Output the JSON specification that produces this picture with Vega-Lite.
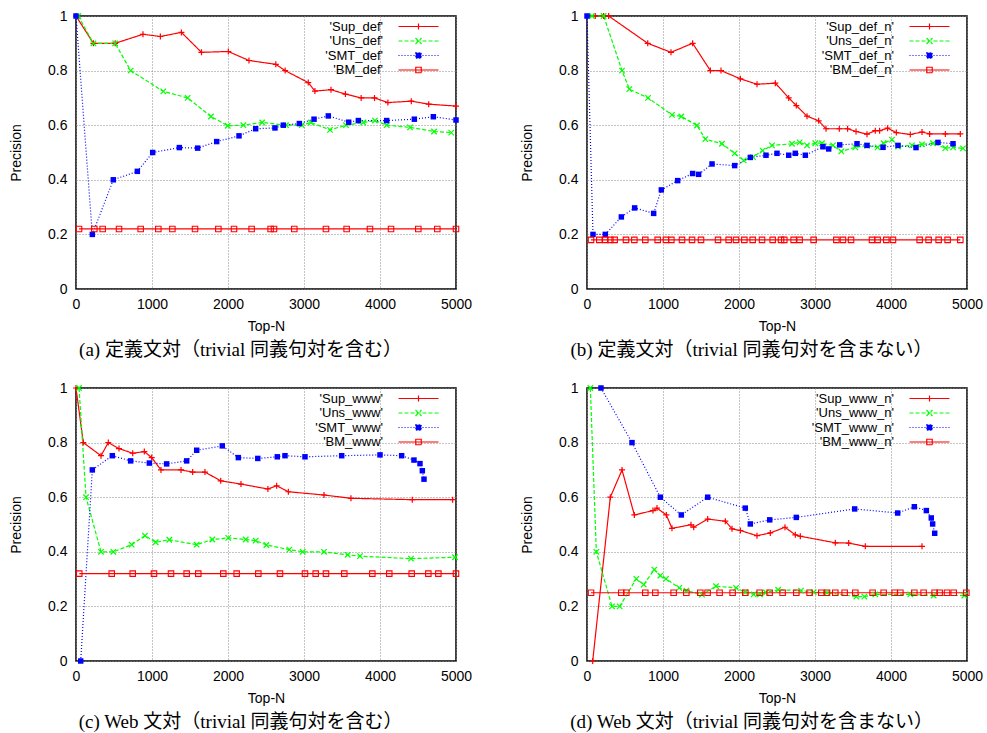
{
  "$schema": "https://vega.github.io/schema/vega-lite/v6.json",
  "padding": {"left": 8, "top": 8, "right": 0, "bottom": 0},
  "columns": 2,
  "spacing": {"row": 99, "column": 131},
  "bounds": "flush",
  "config": {
    "view": {"stroke": "black", "strokeWidth": 1.5},
    "axis": {"labelFont": "Liberation Sans", "labelFontSize": 14, "labelColor": "black", "titleFont": "Liberation Sans", "titleFontSize": 14, "titleFontWeight": "normal", "titleColor": "black", "domain": false, "ticks": false, "grid": true, "gridColor": "#8a8a8a", "gridDash": [1, 2], "gridOpacity": 1, "gridWidth": 1, "labelFlush": false, "labelOverlap": false},
    "axisX": {"labelPadding": 8, "titlePadding": 8},
    "axisY": {"labelPadding": 9, "titlePadding": 24},
    "title": {"orient": "bottom", "font": "Liberation Serif, Noto Sans CJK JP", "fontSize": 19, "fontWeight": "normal", "color": "black", "offset": 8, "anchor": "middle", "frame": "bounds"},
    "legend": {"title": null, "orient": "none", "legendX": 336, "legendY": 4, "padding": 0, "labelAlign": "right", "labelOffset": -42, "symbolSize": 100, "symbolStrokeWidth": 1.2, "labelFontSize": 13, "labelFont": "Liberation Sans", "labelColor": "black", "rowPadding": 0.5}
  },
  "resolve": {
    "scale": {"color": "independent", "strokeDash": "independent"},
    "legend": {"color": "independent", "strokeDash": "independent"}
  },
  "datasets": {
    "a": [
      {"x":0,"y":1,"s":"Sup_def"},{"x":229,"y":0.9,"s":"Sup_def"},{"x":515,"y":0.9,"s":"Sup_def"},{"x":881,"y":0.933,"s":"Sup_def"},{"x":1110,"y":0.925,"s":"Sup_def"},{"x":1387,"y":0.94,"s":"Sup_def"},{"x":1651,"y":0.867,"s":"Sup_def"},{"x":2004,"y":0.87,"s":"Sup_def"},{"x":2276,"y":0.837,"s":"Sup_def"},{"x":2629,"y":0.823,"s":"Sup_def"},{"x":2752,"y":0.8,"s":"Sup_def"},{"x":3056,"y":0.756,"s":"Sup_def"},{"x":3144,"y":0.725,"s":"Sup_def"},{"x":3355,"y":0.73,"s":"Sup_def"},{"x":3545,"y":0.714,"s":"Sup_def"},{"x":3752,"y":0.7,"s":"Sup_def"},{"x":3928,"y":0.7,"s":"Sup_def"},{"x":4104,"y":0.683,"s":"Sup_def"},{"x":4412,"y":0.688,"s":"Sup_def"},{"x":4641,"y":0.677,"s":"Sup_def"},{"x":5000,"y":0.67,"s":"Sup_def"},
      {"x":30,"y":1,"s":"Uns_def"},{"x":229,"y":0.9,"s":"Uns_def"},{"x":515,"y":0.9,"s":"Uns_def"},{"x":719,"y":0.8,"s":"Uns_def"},{"x":1149,"y":0.724,"s":"Uns_def"},{"x":1469,"y":0.7,"s":"Uns_def"},{"x":1776,"y":0.632,"s":"Uns_def"},{"x":1996,"y":0.598,"s":"Uns_def"},{"x":2202,"y":0.6,"s":"Uns_def"},{"x":2450,"y":0.61,"s":"Uns_def"},{"x":2763,"y":0.6,"s":"Uns_def"},{"x":2970,"y":0.6,"s":"Uns_def"},{"x":3092,"y":0.61,"s":"Uns_def"},{"x":3342,"y":0.583,"s":"Uns_def"},{"x":3553,"y":0.6,"s":"Uns_def"},{"x":3780,"y":0.61,"s":"Uns_def"},{"x":3934,"y":0.617,"s":"Uns_def"},{"x":4088,"y":0.6,"s":"Uns_def"},{"x":4395,"y":0.592,"s":"Uns_def"},{"x":4711,"y":0.577,"s":"Uns_def"},{"x":4938,"y":0.573,"s":"Uns_def"},
      {"x":0,"y":1,"s":"SMT_def"},{"x":215,"y":0.2,"s":"SMT_def"},{"x":491,"y":0.4,"s":"SMT_def"},{"x":807,"y":0.431,"s":"SMT_def"},{"x":1009,"y":0.5,"s":"SMT_def"},{"x":1360,"y":0.518,"s":"SMT_def"},{"x":1601,"y":0.516,"s":"SMT_def"},{"x":1851,"y":0.54,"s":"SMT_def"},{"x":2145,"y":0.561,"s":"SMT_def"},{"x":2364,"y":0.587,"s":"SMT_def"},{"x":2618,"y":0.59,"s":"SMT_def"},{"x":2728,"y":0.6,"s":"SMT_def"},{"x":2939,"y":0.606,"s":"SMT_def"},{"x":3132,"y":0.622,"s":"SMT_def"},{"x":3320,"y":0.634,"s":"SMT_def"},{"x":3588,"y":0.611,"s":"SMT_def"},{"x":3715,"y":0.617,"s":"SMT_def"},{"x":4088,"y":0.617,"s":"SMT_def"},{"x":4452,"y":0.622,"s":"SMT_def"},{"x":4702,"y":0.631,"s":"SMT_def"},{"x":5000,"y":0.619,"s":"SMT_def"},
      {"x":40,"y":0.22,"s":"BM_def"},{"x":241,"y":0.22,"s":"BM_def"},{"x":351,"y":0.22,"s":"BM_def"},{"x":566,"y":0.22,"s":"BM_def"},{"x":851,"y":0.22,"s":"BM_def"},{"x":1083,"y":0.22,"s":"BM_def"},{"x":1268,"y":0.22,"s":"BM_def"},{"x":1566,"y":0.22,"s":"BM_def"},{"x":1873,"y":0.22,"s":"BM_def"},{"x":2079,"y":0.22,"s":"BM_def"},{"x":2311,"y":0.22,"s":"BM_def"},{"x":2561,"y":0.22,"s":"BM_def"},{"x":2605,"y":0.22,"s":"BM_def"},{"x":2872,"y":0.22,"s":"BM_def"},{"x":3289,"y":0.22,"s":"BM_def"},{"x":3561,"y":0.22,"s":"BM_def"},{"x":3868,"y":0.22,"s":"BM_def"},{"x":4145,"y":0.22,"s":"BM_def"},{"x":4504,"y":0.22,"s":"BM_def"},{"x":4754,"y":0.22,"s":"BM_def"},{"x":5000,"y":0.22,"s":"BM_def"}
    ],
    "b": [
      {"x":109,"y":1,"s":"Sup_def_n"},{"x":219,"y":1,"s":"Sup_def_n"},{"x":285,"y":1,"s":"Sup_def_n"},{"x":799,"y":0.9,"s":"Sup_def_n"},{"x":1105,"y":0.867,"s":"Sup_def_n"},{"x":1390,"y":0.9,"s":"Sup_def_n"},{"x":1623,"y":0.8,"s":"Sup_def_n"},{"x":1763,"y":0.8,"s":"Sup_def_n"},{"x":2018,"y":0.77,"s":"Sup_def_n"},{"x":2237,"y":0.75,"s":"Sup_def_n"},{"x":2478,"y":0.754,"s":"Sup_def_n"},{"x":2654,"y":0.7,"s":"Sup_def_n"},{"x":2754,"y":0.672,"s":"Sup_def_n"},{"x":2895,"y":0.633,"s":"Sup_def_n"},{"x":3048,"y":0.616,"s":"Sup_def_n"},{"x":3145,"y":0.587,"s":"Sup_def_n"},{"x":3320,"y":0.587,"s":"Sup_def_n"},{"x":3429,"y":0.587,"s":"Sup_def_n"},{"x":3540,"y":0.577,"s":"Sup_def_n"},{"x":3684,"y":0.567,"s":"Sup_def_n"},{"x":3793,"y":0.58,"s":"Sup_def_n"},{"x":3850,"y":0.58,"s":"Sup_def_n"},{"x":3955,"y":0.589,"s":"Sup_def_n"},{"x":4070,"y":0.573,"s":"Sup_def_n"},{"x":4254,"y":0.566,"s":"Sup_def_n"},{"x":4408,"y":0.575,"s":"Sup_def_n"},{"x":4508,"y":0.568,"s":"Sup_def_n"},{"x":4715,"y":0.568,"s":"Sup_def_n"},{"x":4912,"y":0.568,"s":"Sup_def_n"},
      {"x":66,"y":1,"s":"Uns_def_n"},{"x":219,"y":1,"s":"Uns_def_n"},{"x":461,"y":0.8,"s":"Uns_def_n"},{"x":557,"y":0.732,"s":"Uns_def_n"},{"x":803,"y":0.7,"s":"Uns_def_n"},{"x":1118,"y":0.638,"s":"Uns_def_n"},{"x":1241,"y":0.632,"s":"Uns_def_n"},{"x":1447,"y":0.599,"s":"Uns_def_n"},{"x":1557,"y":0.549,"s":"Uns_def_n"},{"x":1776,"y":0.532,"s":"Uns_def_n"},{"x":1943,"y":0.497,"s":"Uns_def_n"},{"x":2061,"y":0.471,"s":"Uns_def_n"},{"x":2184,"y":0.483,"s":"Uns_def_n"},{"x":2311,"y":0.507,"s":"Uns_def_n"},{"x":2434,"y":0.526,"s":"Uns_def_n"},{"x":2697,"y":0.532,"s":"Uns_def_n"},{"x":2798,"y":0.537,"s":"Uns_def_n"},{"x":2895,"y":0.526,"s":"Uns_def_n"},{"x":3004,"y":0.534,"s":"Uns_def_n"},{"x":3092,"y":0.534,"s":"Uns_def_n"},{"x":3237,"y":0.526,"s":"Uns_def_n"},{"x":3346,"y":0.504,"s":"Uns_def_n"},{"x":3530,"y":0.519,"s":"Uns_def_n"},{"x":3684,"y":0.525,"s":"Uns_def_n"},{"x":3824,"y":0.519,"s":"Uns_def_n"},{"x":3903,"y":0.534,"s":"Uns_def_n"},{"x":4013,"y":0.547,"s":"Uns_def_n"},{"x":4092,"y":0.522,"s":"Uns_def_n"},{"x":4276,"y":0.526,"s":"Uns_def_n"},{"x":4408,"y":0.53,"s":"Uns_def_n"},{"x":4553,"y":0.534,"s":"Uns_def_n"},{"x":4715,"y":0.516,"s":"Uns_def_n"},{"x":4816,"y":0.519,"s":"Uns_def_n"},{"x":4947,"y":0.515,"s":"Uns_def_n"},
      {"x":0,"y":1,"s":"SMT_def_n"},{"x":79,"y":0.2,"s":"SMT_def_n"},{"x":241,"y":0.2,"s":"SMT_def_n"},{"x":452,"y":0.264,"s":"SMT_def_n"},{"x":627,"y":0.297,"s":"SMT_def_n"},{"x":877,"y":0.277,"s":"SMT_def_n"},{"x":978,"y":0.363,"s":"SMT_def_n"},{"x":1193,"y":0.397,"s":"SMT_def_n"},{"x":1390,"y":0.423,"s":"SMT_def_n"},{"x":1469,"y":0.42,"s":"SMT_def_n"},{"x":1645,"y":0.458,"s":"SMT_def_n"},{"x":1943,"y":0.452,"s":"SMT_def_n"},{"x":2149,"y":0.482,"s":"SMT_def_n"},{"x":2355,"y":0.49,"s":"SMT_def_n"},{"x":2500,"y":0.497,"s":"SMT_def_n"},{"x":2654,"y":0.49,"s":"SMT_def_n"},{"x":2741,"y":0.497,"s":"SMT_def_n"},{"x":2873,"y":0.49,"s":"SMT_def_n"},{"x":3105,"y":0.521,"s":"SMT_def_n"},{"x":3180,"y":0.513,"s":"SMT_def_n"},{"x":3325,"y":0.528,"s":"SMT_def_n"},{"x":3553,"y":0.532,"s":"SMT_def_n"},{"x":3684,"y":0.526,"s":"SMT_def_n"},{"x":3895,"y":0.519,"s":"SMT_def_n"},{"x":4092,"y":0.526,"s":"SMT_def_n"},{"x":4329,"y":0.518,"s":"SMT_def_n"},{"x":4618,"y":0.537,"s":"SMT_def_n"},{"x":4816,"y":0.532,"s":"SMT_def_n"},
      {"x":53,"y":0.18,"s":"BM_def_n"},{"x":162,"y":0.18,"s":"BM_def_n"},{"x":241,"y":0.18,"s":"BM_def_n"},{"x":307,"y":0.18,"s":"BM_def_n"},{"x":364,"y":0.18,"s":"BM_def_n"},{"x":513,"y":0.18,"s":"BM_def_n"},{"x":623,"y":0.18,"s":"BM_def_n"},{"x":767,"y":0.18,"s":"BM_def_n"},{"x":930,"y":0.18,"s":"BM_def_n"},{"x":1039,"y":0.18,"s":"BM_def_n"},{"x":1110,"y":0.18,"s":"BM_def_n"},{"x":1250,"y":0.18,"s":"BM_def_n"},{"x":1382,"y":0.18,"s":"BM_def_n"},{"x":1500,"y":0.18,"s":"BM_def_n"},{"x":1724,"y":0.18,"s":"BM_def_n"},{"x":1864,"y":0.18,"s":"BM_def_n"},{"x":1961,"y":0.18,"s":"BM_def_n"},{"x":2070,"y":0.18,"s":"BM_def_n"},{"x":2180,"y":0.18,"s":"BM_def_n"},{"x":2303,"y":0.18,"s":"BM_def_n"},{"x":2443,"y":0.18,"s":"BM_def_n"},{"x":2553,"y":0.18,"s":"BM_def_n"},{"x":2596,"y":0.18,"s":"BM_def_n"},{"x":2719,"y":0.18,"s":"BM_def_n"},{"x":2798,"y":0.18,"s":"BM_def_n"},{"x":2982,"y":0.18,"s":"BM_def_n"},{"x":3281,"y":0.18,"s":"BM_def_n"},{"x":3368,"y":0.18,"s":"BM_def_n"},{"x":3474,"y":0.18,"s":"BM_def_n"},{"x":3750,"y":0.18,"s":"BM_def_n"},{"x":3824,"y":0.18,"s":"BM_def_n"},{"x":3938,"y":0.18,"s":"BM_def_n"},{"x":4026,"y":0.18,"s":"BM_def_n"},{"x":4377,"y":0.18,"s":"BM_def_n"},{"x":4495,"y":0.18,"s":"BM_def_n"},{"x":4627,"y":0.18,"s":"BM_def_n"},{"x":4745,"y":0.18,"s":"BM_def_n"},{"x":4912,"y":0.18,"s":"BM_def_n"}
    ],
    "c": [
      {"x":0,"y":1,"s":"Sup_www"},{"x":96,"y":0.8,"s":"Sup_www"},{"x":329,"y":0.752,"s":"Sup_www"},{"x":425,"y":0.8,"s":"Sup_www"},{"x":566,"y":0.778,"s":"Sup_www"},{"x":746,"y":0.761,"s":"Sup_www"},{"x":899,"y":0.767,"s":"Sup_www"},{"x":996,"y":0.745,"s":"Sup_www"},{"x":1118,"y":0.7,"s":"Sup_www"},{"x":1382,"y":0.7,"s":"Sup_www"},{"x":1535,"y":0.692,"s":"Sup_www"},{"x":1697,"y":0.692,"s":"Sup_www"},{"x":1904,"y":0.66,"s":"Sup_www"},{"x":2171,"y":0.648,"s":"Sup_www"},{"x":2525,"y":0.63,"s":"Sup_www"},{"x":2640,"y":0.642,"s":"Sup_www"},{"x":2794,"y":0.62,"s":"Sup_www"},{"x":3263,"y":0.608,"s":"Sup_www"},{"x":3618,"y":0.596,"s":"Sup_www"},{"x":4425,"y":0.591,"s":"Sup_www"},{"x":4956,"y":0.591,"s":"Sup_www"},
      {"x":40,"y":1,"s":"Uns_www"},{"x":132,"y":0.6,"s":"Uns_www"},{"x":329,"y":0.4,"s":"Uns_www"},{"x":491,"y":0.4,"s":"Uns_www"},{"x":732,"y":0.426,"s":"Uns_www"},{"x":908,"y":0.459,"s":"Uns_www"},{"x":1048,"y":0.435,"s":"Uns_www"},{"x":1228,"y":0.444,"s":"Uns_www"},{"x":1588,"y":0.426,"s":"Uns_www"},{"x":1794,"y":0.445,"s":"Uns_www"},{"x":2004,"y":0.451,"s":"Uns_www"},{"x":2233,"y":0.445,"s":"Uns_www"},{"x":2365,"y":0.441,"s":"Uns_www"},{"x":2505,"y":0.425,"s":"Uns_www"},{"x":2807,"y":0.408,"s":"Uns_www"},{"x":2983,"y":0.4,"s":"Uns_www"},{"x":3263,"y":0.4,"s":"Uns_www"},{"x":3575,"y":0.389,"s":"Uns_www"},{"x":3737,"y":0.384,"s":"Uns_www"},{"x":4408,"y":0.375,"s":"Uns_www"},{"x":4987,"y":0.38,"s":"Uns_www"},
      {"x":62,"y":0,"s":"SMT_www"},{"x":215,"y":0.7,"s":"SMT_www"},{"x":478,"y":0.752,"s":"SMT_www"},{"x":719,"y":0.733,"s":"SMT_www"},{"x":965,"y":0.725,"s":"SMT_www"},{"x":1193,"y":0.722,"s":"SMT_www"},{"x":1456,"y":0.733,"s":"SMT_www"},{"x":1588,"y":0.772,"s":"SMT_www"},{"x":1925,"y":0.788,"s":"SMT_www"},{"x":2136,"y":0.745,"s":"SMT_www"},{"x":2392,"y":0.742,"s":"SMT_www"},{"x":2649,"y":0.748,"s":"SMT_www"},{"x":2750,"y":0.752,"s":"SMT_www"},{"x":3013,"y":0.748,"s":"SMT_www"},{"x":3496,"y":0.752,"s":"SMT_www"},{"x":4000,"y":0.755,"s":"SMT_www"},{"x":4285,"y":0.752,"s":"SMT_www"},{"x":4447,"y":0.736,"s":"SMT_www"},{"x":4526,"y":0.723,"s":"SMT_www"},{"x":4557,"y":0.697,"s":"SMT_www"},{"x":4579,"y":0.666,"s":"SMT_www"},
      {"x":43,"y":0.32,"s":"BM_www"},{"x":470,"y":0.32,"s":"BM_www"},{"x":746,"y":0.32,"s":"BM_www"},{"x":1026,"y":0.32,"s":"BM_www"},{"x":1250,"y":0.32,"s":"BM_www"},{"x":1456,"y":0.32,"s":"BM_www"},{"x":1609,"y":0.32,"s":"BM_www"},{"x":1938,"y":0.32,"s":"BM_www"},{"x":2114,"y":0.32,"s":"BM_www"},{"x":2399,"y":0.32,"s":"BM_www"},{"x":2684,"y":0.32,"s":"BM_www"},{"x":3013,"y":0.32,"s":"BM_www"},{"x":3154,"y":0.32,"s":"BM_www"},{"x":3289,"y":0.32,"s":"BM_www"},{"x":3530,"y":0.32,"s":"BM_www"},{"x":3899,"y":0.32,"s":"BM_www"},{"x":4122,"y":0.32,"s":"BM_www"},{"x":4417,"y":0.32,"s":"BM_www"},{"x":4636,"y":0.32,"s":"BM_www"},{"x":4768,"y":0.32,"s":"BM_www"},{"x":5000,"y":0.32,"s":"BM_www"}
    ],
    "d": [
      {"x":75,"y":0,"s":"Sup_www_n"},{"x":307,"y":0.6,"s":"Sup_www_n"},{"x":461,"y":0.7,"s":"Sup_www_n"},{"x":623,"y":0.535,"s":"Sup_www_n"},{"x":868,"y":0.551,"s":"Sup_www_n"},{"x":921,"y":0.56,"s":"Sup_www_n"},{"x":1044,"y":0.535,"s":"Sup_www_n"},{"x":1118,"y":0.486,"s":"Sup_www_n"},{"x":1368,"y":0.499,"s":"Sup_www_n"},{"x":1404,"y":0.49,"s":"Sup_www_n"},{"x":1588,"y":0.52,"s":"Sup_www_n"},{"x":1820,"y":0.512,"s":"Sup_www_n"},{"x":1908,"y":0.484,"s":"Sup_www_n"},{"x":2018,"y":0.478,"s":"Sup_www_n"},{"x":2237,"y":0.459,"s":"Sup_www_n"},{"x":2412,"y":0.469,"s":"Sup_www_n"},{"x":2605,"y":0.49,"s":"Sup_www_n"},{"x":2741,"y":0.462,"s":"Sup_www_n"},{"x":2807,"y":0.457,"s":"Sup_www_n"},{"x":3267,"y":0.433,"s":"Sup_www_n"},{"x":3443,"y":0.432,"s":"Sup_www_n"},{"x":3662,"y":0.42,"s":"Sup_www_n"},{"x":4408,"y":0.42,"s":"Sup_www_n"},
      {"x":44,"y":1,"s":"Uns_www_n"},{"x":123,"y":0.4,"s":"Uns_www_n"},{"x":329,"y":0.2,"s":"Uns_www_n"},{"x":430,"y":0.2,"s":"Uns_www_n"},{"x":649,"y":0.301,"s":"Uns_www_n"},{"x":746,"y":0.28,"s":"Uns_www_n"},{"x":886,"y":0.335,"s":"Uns_www_n"},{"x":965,"y":0.313,"s":"Uns_www_n"},{"x":1039,"y":0.301,"s":"Uns_www_n"},{"x":1215,"y":0.268,"s":"Uns_www_n"},{"x":1307,"y":0.258,"s":"Uns_www_n"},{"x":1513,"y":0.243,"s":"Uns_www_n"},{"x":1697,"y":0.274,"s":"Uns_www_n"},{"x":1961,"y":0.268,"s":"Uns_www_n"},{"x":2083,"y":0.252,"s":"Uns_www_n"},{"x":2193,"y":0.244,"s":"Uns_www_n"},{"x":2276,"y":0.244,"s":"Uns_www_n"},{"x":2353,"y":0.251,"s":"Uns_www_n"},{"x":2515,"y":0.261,"s":"Uns_www_n"},{"x":2816,"y":0.258,"s":"Uns_www_n"},{"x":2983,"y":0.252,"s":"Uns_www_n"},{"x":3158,"y":0.25,"s":"Uns_www_n"},{"x":3544,"y":0.236,"s":"Uns_www_n"},{"x":3649,"y":0.236,"s":"Uns_www_n"},{"x":3794,"y":0.244,"s":"Uns_www_n"},{"x":4254,"y":0.244,"s":"Uns_www_n"},{"x":4561,"y":0.24,"s":"Uns_www_n"},{"x":4965,"y":0.24,"s":"Uns_www_n"},
      {"x":184,"y":1,"s":"SMT_www_n"},{"x":592,"y":0.8,"s":"SMT_www_n"},{"x":965,"y":0.6,"s":"SMT_www_n"},{"x":1241,"y":0.535,"s":"SMT_www_n"},{"x":1588,"y":0.6,"s":"SMT_www_n"},{"x":2083,"y":0.56,"s":"SMT_www_n"},{"x":2149,"y":0.502,"s":"SMT_www_n"},{"x":2404,"y":0.517,"s":"SMT_www_n"},{"x":2754,"y":0.526,"s":"SMT_www_n"},{"x":3522,"y":0.557,"s":"SMT_www_n"},{"x":4088,"y":0.542,"s":"SMT_www_n"},{"x":4307,"y":0.565,"s":"SMT_www_n"},{"x":4465,"y":0.551,"s":"SMT_www_n"},{"x":4530,"y":0.524,"s":"SMT_www_n"},{"x":4548,"y":0.502,"s":"SMT_www_n"},{"x":4575,"y":0.468,"s":"SMT_www_n"},
      {"x":53,"y":0.25,"s":"BM_www_n"},{"x":451,"y":0.25,"s":"BM_www_n"},{"x":517,"y":0.25,"s":"BM_www_n"},{"x":767,"y":0.25,"s":"BM_www_n"},{"x":899,"y":0.25,"s":"BM_www_n"},{"x":1140,"y":0.25,"s":"BM_www_n"},{"x":1307,"y":0.25,"s":"BM_www_n"},{"x":1491,"y":0.25,"s":"BM_www_n"},{"x":1587,"y":0.25,"s":"BM_www_n"},{"x":1745,"y":0.25,"s":"BM_www_n"},{"x":1916,"y":0.25,"s":"BM_www_n"},{"x":2083,"y":0.25,"s":"BM_www_n"},{"x":2271,"y":0.25,"s":"BM_www_n"},{"x":2403,"y":0.25,"s":"BM_www_n"},{"x":2574,"y":0.25,"s":"BM_www_n"},{"x":2754,"y":0.25,"s":"BM_www_n"},{"x":2929,"y":0.25,"s":"BM_www_n"},{"x":3083,"y":0.25,"s":"BM_www_n"},{"x":3158,"y":0.25,"s":"BM_www_n"},{"x":3267,"y":0.25,"s":"BM_www_n"},{"x":3390,"y":0.25,"s":"BM_www_n"},{"x":3530,"y":0.25,"s":"BM_www_n"},{"x":3758,"y":0.25,"s":"BM_www_n"},{"x":3903,"y":0.25,"s":"BM_www_n"},{"x":4048,"y":0.25,"s":"BM_www_n"},{"x":4123,"y":0.25,"s":"BM_www_n"},{"x":4307,"y":0.25,"s":"BM_www_n"},{"x":4429,"y":0.25,"s":"BM_www_n"},{"x":4574,"y":0.25,"s":"BM_www_n"},{"x":4640,"y":0.25,"s":"BM_www_n"},{"x":4737,"y":0.25,"s":"BM_www_n"},{"x":4825,"y":0.25,"s":"BM_www_n"},{"x":4991,"y":0.25,"s":"BM_www_n"}
    ]
  },
  "concat": [
    {
      "width": 380, "height": 273,
      "data": {"name": "a"},
      "title": {"text": "(a) 定義文対（trivial 同義句対を含む）"},
      "encoding": {
        "x": {"field": "x", "type": "quantitative", "scale": {"domain": [0, 5000], "nice": false}, "axis": {"values": [0, 1000, 2000, 3000, 4000, 5000], "format": "d", "title": "Top-N"}},
        "y": {"field": "y", "type": "quantitative", "scale": {"domain": [0, 1], "nice": false}, "axis": {"values": [0, 0.2, 0.4, 0.6, 0.8, 1], "format": "~g", "title": "Precision"}}
      },
      "layer": [
        {"mark": {"type": "line", "strokeWidth": 1.2},
         "encoding": {
           "color": {"field": "s", "type": "nominal", "scale": {"domain": ["Sup_def", "Uns_def", "SMT_def", "BM_def"], "range": ["#ff0000", "#00ff00", "#0000ff", "#ff0000"]},
             "legend": {"labelExpr": "\"'\" + datum.label + \"'\"", "encode": {"symbols": {"update": {"shape": {"signal": "datum.value == 'Sup_def' ? 'M-4,0H4M0,-0.6V0.6M-0.6,0H0.6' : datum.value == 'Uns_def' ? 'M-4,0H4M-0.6,-0.6L0.6,0.6M-0.6,0.6L0.6,-0.6' : 'M-4,0H4M-0.55,-0.55H0.55V0.55H-0.55Z'"}, "fill": {"signal": "datum.value == 'SMT_def' ? '#0000ff' : 'transparent'"}}}}}},
           "strokeDash": {"field": "s", "type": "nominal", "scale": {"domain": ["Sup_def", "Uns_def", "SMT_def", "BM_def"], "range": [[1, 0], [4, 2], [1, 2], [1, 0]]},
             "legend": {"labelExpr": "\"'\" + datum.label + \"'\"", "encode": {"symbols": {"update": {"shape": {"signal": "datum.value == 'Sup_def' ? 'M-4,0H4M0,-0.6V0.6M-0.6,0H0.6' : datum.value == 'Uns_def' ? 'M-4,0H4M-0.6,-0.6L0.6,0.6M-0.6,0.6L0.6,-0.6' : 'M-4,0H4M-0.55,-0.55H0.55V0.55H-0.55Z'"}, "fill": {"signal": "datum.value == 'SMT_def' ? '#0000ff' : 'transparent'"}}}}}}
         }},
        {"transform": [{"filter": "datum.s == 'Sup_def'"}], "mark": {"type": "point", "shape": "M-1,0H1M0,-1V1", "size": 36, "strokeWidth": 1.2, "opacity": 1, "color": "#ff0000"}},
        {"transform": [{"filter": "datum.s == 'Uns_def'"}], "mark": {"type": "point", "shape": "M-1,-1L1,1M-1,1L1,-1", "size": 30, "strokeWidth": 1.2, "opacity": 1, "color": "#00ff00"}},
        {"transform": [{"filter": "datum.s == 'SMT_def'"}], "mark": {"type": "point", "shape": "square", "size": 30, "filled": true, "opacity": 1, "color": "#0000ff"}},
        {"transform": [{"filter": "datum.s == 'BM_def'"}], "mark": {"type": "point", "shape": "square", "size": 30, "strokeWidth": 1.1, "opacity": 1, "color": "#ff0000"}}
      ]
    },
    {
      "width": 380, "height": 273,
      "data": {"name": "b"},
      "title": {"text": "(b) 定義文対（trivial 同義句対を含まない）"},
      "encoding": {
        "x": {"field": "x", "type": "quantitative", "scale": {"domain": [0, 5000], "nice": false}, "axis": {"values": [0, 1000, 2000, 3000, 4000, 5000], "format": "d", "title": "Top-N"}},
        "y": {"field": "y", "type": "quantitative", "scale": {"domain": [0, 1], "nice": false}, "axis": {"values": [0, 0.2, 0.4, 0.6, 0.8, 1], "format": "~g", "title": "Precision"}}
      },
      "layer": [
        {"mark": {"type": "line", "strokeWidth": 1.2},
         "encoding": {
           "color": {"field": "s", "type": "nominal", "scale": {"domain": ["Sup_def_n", "Uns_def_n", "SMT_def_n", "BM_def_n"], "range": ["#ff0000", "#00ff00", "#0000ff", "#ff0000"]},
             "legend": {"labelExpr": "\"'\" + datum.label + \"'\"", "encode": {"symbols": {"update": {"shape": {"signal": "datum.value == 'Sup_def_n' ? 'M-4,0H4M0,-0.6V0.6M-0.6,0H0.6' : datum.value == 'Uns_def_n' ? 'M-4,0H4M-0.6,-0.6L0.6,0.6M-0.6,0.6L0.6,-0.6' : 'M-4,0H4M-0.55,-0.55H0.55V0.55H-0.55Z'"}, "fill": {"signal": "datum.value == 'SMT_def_n' ? '#0000ff' : 'transparent'"}}}}}},
           "strokeDash": {"field": "s", "type": "nominal", "scale": {"domain": ["Sup_def_n", "Uns_def_n", "SMT_def_n", "BM_def_n"], "range": [[1, 0], [4, 2], [1, 2], [1, 0]]},
             "legend": {"labelExpr": "\"'\" + datum.label + \"'\"", "encode": {"symbols": {"update": {"shape": {"signal": "datum.value == 'Sup_def_n' ? 'M-4,0H4M0,-0.6V0.6M-0.6,0H0.6' : datum.value == 'Uns_def_n' ? 'M-4,0H4M-0.6,-0.6L0.6,0.6M-0.6,0.6L0.6,-0.6' : 'M-4,0H4M-0.55,-0.55H0.55V0.55H-0.55Z'"}, "fill": {"signal": "datum.value == 'SMT_def_n' ? '#0000ff' : 'transparent'"}}}}}}
         }},
        {"transform": [{"filter": "datum.s == 'Sup_def_n'"}], "mark": {"type": "point", "shape": "M-1,0H1M0,-1V1", "size": 36, "strokeWidth": 1.2, "opacity": 1, "color": "#ff0000"}},
        {"transform": [{"filter": "datum.s == 'Uns_def_n'"}], "mark": {"type": "point", "shape": "M-1,-1L1,1M-1,1L1,-1", "size": 30, "strokeWidth": 1.2, "opacity": 1, "color": "#00ff00"}},
        {"transform": [{"filter": "datum.s == 'SMT_def_n'"}], "mark": {"type": "point", "shape": "square", "size": 30, "filled": true, "opacity": 1, "color": "#0000ff"}},
        {"transform": [{"filter": "datum.s == 'BM_def_n'"}], "mark": {"type": "point", "shape": "square", "size": 30, "strokeWidth": 1.1, "opacity": 1, "color": "#ff0000"}}
      ]
    },
    {
      "width": 380, "height": 273,
      "data": {"name": "c"},
      "title": {"text": "(c) Web 文対（trivial 同義句対を含む）"},
      "encoding": {
        "x": {"field": "x", "type": "quantitative", "scale": {"domain": [0, 5000], "nice": false}, "axis": {"values": [0, 1000, 2000, 3000, 4000, 5000], "format": "d", "title": "Top-N"}},
        "y": {"field": "y", "type": "quantitative", "scale": {"domain": [0, 1], "nice": false}, "axis": {"values": [0, 0.2, 0.4, 0.6, 0.8, 1], "format": "~g", "title": "Precision"}}
      },
      "layer": [
        {"mark": {"type": "line", "strokeWidth": 1.2},
         "encoding": {
           "color": {"field": "s", "type": "nominal", "scale": {"domain": ["Sup_www", "Uns_www", "SMT_www", "BM_www"], "range": ["#ff0000", "#00ff00", "#0000ff", "#ff0000"]},
             "legend": {"labelExpr": "\"'\" + datum.label + \"'\"", "encode": {"symbols": {"update": {"shape": {"signal": "datum.value == 'Sup_www' ? 'M-4,0H4M0,-0.6V0.6M-0.6,0H0.6' : datum.value == 'Uns_www' ? 'M-4,0H4M-0.6,-0.6L0.6,0.6M-0.6,0.6L0.6,-0.6' : 'M-4,0H4M-0.55,-0.55H0.55V0.55H-0.55Z'"}, "fill": {"signal": "datum.value == 'SMT_www' ? '#0000ff' : 'transparent'"}}}}}},
           "strokeDash": {"field": "s", "type": "nominal", "scale": {"domain": ["Sup_www", "Uns_www", "SMT_www", "BM_www"], "range": [[1, 0], [4, 2], [1, 2], [1, 0]]},
             "legend": {"labelExpr": "\"'\" + datum.label + \"'\"", "encode": {"symbols": {"update": {"shape": {"signal": "datum.value == 'Sup_www' ? 'M-4,0H4M0,-0.6V0.6M-0.6,0H0.6' : datum.value == 'Uns_www' ? 'M-4,0H4M-0.6,-0.6L0.6,0.6M-0.6,0.6L0.6,-0.6' : 'M-4,0H4M-0.55,-0.55H0.55V0.55H-0.55Z'"}, "fill": {"signal": "datum.value == 'SMT_www' ? '#0000ff' : 'transparent'"}}}}}}
         }},
        {"transform": [{"filter": "datum.s == 'Sup_www'"}], "mark": {"type": "point", "shape": "M-1,0H1M0,-1V1", "size": 36, "strokeWidth": 1.2, "opacity": 1, "color": "#ff0000"}},
        {"transform": [{"filter": "datum.s == 'Uns_www'"}], "mark": {"type": "point", "shape": "M-1,-1L1,1M-1,1L1,-1", "size": 30, "strokeWidth": 1.2, "opacity": 1, "color": "#00ff00"}},
        {"transform": [{"filter": "datum.s == 'SMT_www'"}], "mark": {"type": "point", "shape": "square", "size": 30, "filled": true, "opacity": 1, "color": "#0000ff"}},
        {"transform": [{"filter": "datum.s == 'BM_www'"}], "mark": {"type": "point", "shape": "square", "size": 30, "strokeWidth": 1.1, "opacity": 1, "color": "#ff0000"}}
      ]
    },
    {
      "width": 380, "height": 273,
      "data": {"name": "d"},
      "title": {"text": "(d) Web 文対（trivial 同義句対を含まない）"},
      "encoding": {
        "x": {"field": "x", "type": "quantitative", "scale": {"domain": [0, 5000], "nice": false}, "axis": {"values": [0, 1000, 2000, 3000, 4000, 5000], "format": "d", "title": "Top-N"}},
        "y": {"field": "y", "type": "quantitative", "scale": {"domain": [0, 1], "nice": false}, "axis": {"values": [0, 0.2, 0.4, 0.6, 0.8, 1], "format": "~g", "title": "Precision"}}
      },
      "layer": [
        {"mark": {"type": "line", "strokeWidth": 1.2},
         "encoding": {
           "color": {"field": "s", "type": "nominal", "scale": {"domain": ["Sup_www_n", "Uns_www_n", "SMT_www_n", "BM_www_n"], "range": ["#ff0000", "#00ff00", "#0000ff", "#ff0000"]},
             "legend": {"labelExpr": "\"'\" + datum.label + \"'\"", "encode": {"symbols": {"update": {"shape": {"signal": "datum.value == 'Sup_www_n' ? 'M-4,0H4M0,-0.6V0.6M-0.6,0H0.6' : datum.value == 'Uns_www_n' ? 'M-4,0H4M-0.6,-0.6L0.6,0.6M-0.6,0.6L0.6,-0.6' : 'M-4,0H4M-0.55,-0.55H0.55V0.55H-0.55Z'"}, "fill": {"signal": "datum.value == 'SMT_www_n' ? '#0000ff' : 'transparent'"}}}}}},
           "strokeDash": {"field": "s", "type": "nominal", "scale": {"domain": ["Sup_www_n", "Uns_www_n", "SMT_www_n", "BM_www_n"], "range": [[1, 0], [4, 2], [1, 2], [1, 0]]},
             "legend": {"labelExpr": "\"'\" + datum.label + \"'\"", "encode": {"symbols": {"update": {"shape": {"signal": "datum.value == 'Sup_www_n' ? 'M-4,0H4M0,-0.6V0.6M-0.6,0H0.6' : datum.value == 'Uns_www_n' ? 'M-4,0H4M-0.6,-0.6L0.6,0.6M-0.6,0.6L0.6,-0.6' : 'M-4,0H4M-0.55,-0.55H0.55V0.55H-0.55Z'"}, "fill": {"signal": "datum.value == 'SMT_www_n' ? '#0000ff' : 'transparent'"}}}}}}
         }},
        {"transform": [{"filter": "datum.s == 'Sup_www_n'"}], "mark": {"type": "point", "shape": "M-1,0H1M0,-1V1", "size": 36, "strokeWidth": 1.2, "opacity": 1, "color": "#ff0000"}},
        {"transform": [{"filter": "datum.s == 'Uns_www_n'"}], "mark": {"type": "point", "shape": "M-1,-1L1,1M-1,1L1,-1", "size": 30, "strokeWidth": 1.2, "opacity": 1, "color": "#00ff00"}},
        {"transform": [{"filter": "datum.s == 'SMT_www_n'"}], "mark": {"type": "point", "shape": "square", "size": 30, "filled": true, "opacity": 1, "color": "#0000ff"}},
        {"transform": [{"filter": "datum.s == 'BM_www_n'"}], "mark": {"type": "point", "shape": "square", "size": 30, "strokeWidth": 1.1, "opacity": 1, "color": "#ff0000"}}
      ]
    }
  ]
}
